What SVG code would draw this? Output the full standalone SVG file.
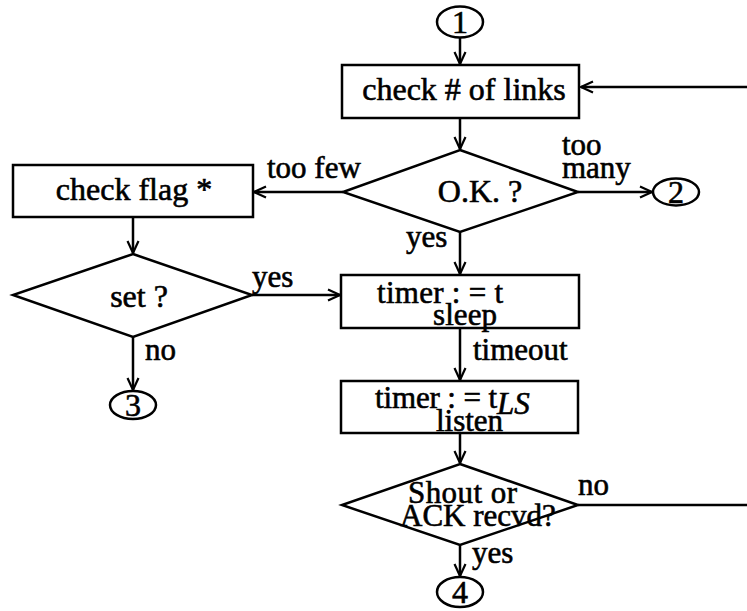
<svg xmlns="http://www.w3.org/2000/svg" width="747" height="611" viewBox="0 0 747 611">
<defs>
<style>
.s{fill:#fff;stroke:#000;stroke-width:2.5}
.t{font-family:"Liberation Serif","Times New Roman",serif;font-size:32px;fill:#000;stroke:#000;stroke-width:0.6;text-anchor:middle}
.l{font-family:"Liberation Serif","Times New Roman",serif;font-size:31px;fill:#000;stroke:#000;stroke-width:0.6}
.c{fill:none;stroke:#000;stroke-width:2.5}
</style>
<marker id="ah" viewBox="0 0 14 14" refX="13" refY="7" markerWidth="14" markerHeight="14" markerUnits="userSpaceOnUse" orient="auto">
<path d="M1,1.5 L13,7 L1,12.5" fill="none" stroke="#000" stroke-width="2.2"/>
</marker>
</defs>
<rect width="747" height="611" fill="#fff"/>
<g id="connectors">
<line class="c" x1="460" y1="38" x2="460" y2="64" marker-end="url(#ah)"/>
<line class="c" x1="747" y1="87" x2="581" y2="87" marker-end="url(#ah)"/>
<line class="c" x1="460" y1="118" x2="460" y2="149" marker-end="url(#ah)"/>
<line class="c" x1="343" y1="192" x2="254" y2="192" marker-end="url(#ah)"/>
<line class="c" x1="578" y1="192" x2="652" y2="192" marker-end="url(#ah)"/>
<line class="c" x1="460" y1="232" x2="460" y2="274" marker-end="url(#ah)"/>
<line class="c" x1="133" y1="217" x2="133" y2="253" marker-end="url(#ah)"/>
<line class="c" x1="252" y1="295" x2="340" y2="295" marker-end="url(#ah)"/>
<line class="c" x1="133" y1="337" x2="133" y2="390" marker-end="url(#ah)"/>
<line class="c" x1="460" y1="328" x2="460" y2="380" marker-end="url(#ah)"/>
<line class="c" x1="460" y1="433" x2="460" y2="463" marker-end="url(#ah)"/>
<line class="c" x1="578" y1="505" x2="747" y2="505"/>
<line class="c" x1="460" y1="545" x2="460" y2="576" marker-end="url(#ah)"/>
<text class="l" x="267" y="178">too few</text>
<text class="l" x="562" y="155" font-size="29">too</text>
<text class="l" x="562" y="178" font-size="30">many</text>
<text class="l" x="406" y="247">yes</text>
<text class="l" x="252" y="287">yes</text>
<text class="l" x="145" y="360">no</text>
<text class="l" x="473" y="360">timeout</text>
<text class="l" x="578" y="495">no</text>
<text class="l" x="472" y="563">yes</text>
</g>
<g id="c1">
<ellipse class="s" cx="460" cy="22" rx="23" ry="15.5"/>
<text class="t" x="460" y="33">1</text>
</g>
<g id="checkLinks">
<rect class="s" x="342" y="65" width="237" height="53"/>
<text class="t" x="464" y="100">check # of links</text>
</g>
<g id="okDecision">
<polygon class="s" points="460,150 578,192 460,232 343,192"/>
<text class="t" x="480" y="202">O.K. ?</text>
</g>
<g id="c2">
<ellipse class="s" cx="676" cy="192" rx="23" ry="13.5"/>
<text class="t" x="676" y="203">2</text>
</g>
<g id="checkFlag">
<rect class="s" x="13" y="165" width="240" height="52"/>
<text class="t" x="134" y="200">check flag *</text>
</g>
<g id="setDecision">
<polygon class="s" points="133,254 252,295 133,337 13,295"/>
<text class="t" x="139" y="307">set ?</text>
</g>
<g id="c3">
<ellipse class="s" cx="133" cy="405" rx="23" ry="14"/>
<text class="t" x="133" y="416">3</text>
</g>
<g id="timerSleep">
<rect class="s" x="341" y="275" width="238" height="53"/>
<text class="l" x="377" y="303" textLength="126" font-size="31">timer : = t</text>
<text class="l" x="433" y="325" textLength="64" font-size="30">sleep</text>
</g>
<g id="timerListen">
<rect class="s" x="341" y="381" width="237" height="52"/>
<text class="l" x="375" y="408" textLength="122" font-size="31">timer : = t</text>
<text class="l" x="497" y="414" font-style="italic" font-size="22">LS</text>
<text class="l" x="436" y="431" textLength="67" font-size="30">listen</text>
</g>
<g id="ackDecision">
<polygon class="s" points="460,464 578,505 460,545 342,505"/>
<text class="l" x="408" y="503" textLength="109" font-size="29">Shout or</text>
<text class="l" x="400" y="526" font-size="24">ACK recvd?</text>
</g>
<g id="c4">
<ellipse class="s" cx="460" cy="592" rx="23" ry="15"/>
<text class="t" x="460" y="603">4</text>
</g>
</svg>
